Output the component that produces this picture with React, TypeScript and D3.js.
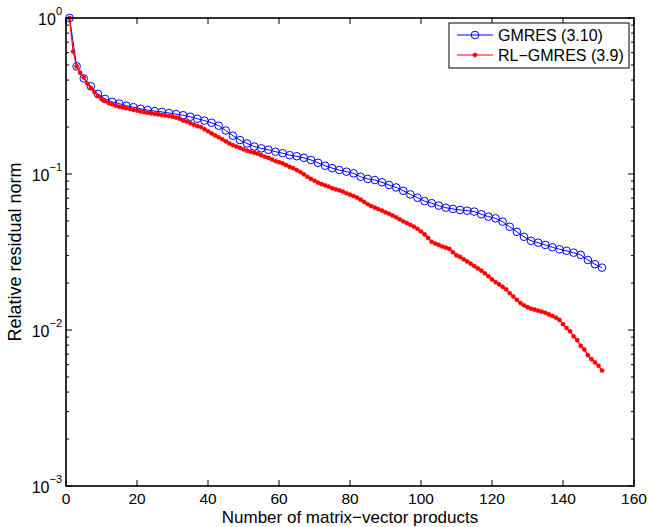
import React from "react";
import * as d3 from "d3";

// GMRES (3.10): residual at every 2nd matrix-vector product (1,3,...,151)
const gmresIter = d3.range(1, 152, 2);
const gmresRes = [
  1.0, 0.49, 0.41, 0.365, 0.326, 0.303, 0.29, 0.283, 0.274, 0.268,
  0.262, 0.257, 0.253, 0.25, 0.246, 0.242, 0.238, 0.233, 0.226, 0.22,
  0.213, 0.204, 0.19, 0.176, 0.165, 0.157, 0.15, 0.146, 0.143, 0.139,
  0.136, 0.132, 0.13, 0.127, 0.123, 0.118, 0.113, 0.109, 0.106, 0.1035,
  0.101, 0.096, 0.093, 0.0915, 0.0885, 0.085, 0.082, 0.078, 0.074, 0.0705,
  0.067, 0.065, 0.0627, 0.0608, 0.0597, 0.0588, 0.0582, 0.0574, 0.0552, 0.0533,
  0.052, 0.0495, 0.0459, 0.0426, 0.0396, 0.0373, 0.0363, 0.0351, 0.0339, 0.0329,
  0.0322, 0.0313, 0.0303, 0.0281, 0.0264, 0.0251,
];

// RL-GMRES (3.9): residual at every matrix-vector product (1..151)
const rlIter = d3.range(1, 152, 1);
const rlRes = [
  1.0, 0.61, 0.49, 0.445, 0.415, 0.38, 0.356, 0.335, 0.315, 0.302,
  0.293, 0.285, 0.28, 0.274, 0.27, 0.267, 0.264, 0.261, 0.258, 0.255,
  0.252, 0.249, 0.247, 0.245, 0.243, 0.241, 0.239, 0.237, 0.235, 0.233,
  0.23, 0.226, 0.22, 0.217, 0.212, 0.207, 0.203, 0.2, 0.194, 0.188,
  0.182, 0.177, 0.172, 0.167, 0.162, 0.157, 0.153, 0.15, 0.147, 0.144,
  0.141, 0.139, 0.137, 0.135, 0.132, 0.129, 0.127, 0.124, 0.121, 0.119,
  0.117, 0.114, 0.111, 0.109, 0.106, 0.103, 0.0995, 0.096, 0.093, 0.0905,
  0.088, 0.086, 0.0845, 0.083, 0.081, 0.0798, 0.0785, 0.077, 0.0752, 0.0737,
  0.0722, 0.0705, 0.0685, 0.0662, 0.064, 0.0622, 0.0608, 0.0595, 0.0583, 0.0568,
  0.0556, 0.0542, 0.0528, 0.0512, 0.0497, 0.0485, 0.0472, 0.046, 0.0445, 0.0428,
  0.041, 0.0389, 0.0368, 0.0358, 0.0351, 0.0343, 0.0337, 0.0331, 0.0315, 0.0301,
  0.0294, 0.0284, 0.0275, 0.0266, 0.0257, 0.0248, 0.024, 0.0231, 0.0221, 0.0211,
  0.0203, 0.0196, 0.0189, 0.0182, 0.0172, 0.0164, 0.0156, 0.0149, 0.0144, 0.014,
  0.0137, 0.0135, 0.0133, 0.0131, 0.0129, 0.0126, 0.0123, 0.012, 0.0116, 0.0109,
  0.0103, 0.0098, 0.0091, 0.0086, 0.0079, 0.0075, 0.0069, 0.0065, 0.0062, 0.0059,
  0.0055,
];

const xTicks = [0, 20, 40, 60, 80, 100, 120, 140, 160];
const yDecades = [-3, -2, -1, 0];
const seriesNames = ["GMRES (3.10)", "RL\u2212GMRES (3.9)"];
const xLabel = "Number of matrix\u2212vector products";
const yLabel = "Relative residual norm";

const W = 648;
const H = 527;
const L = 66, R = 634, T = 18, B = 486;
const FONT = "'Liberation Sans', Arial, Helvetica, sans-serif";

export default function App() {
  const x = d3.scaleLinear().domain([0, 160]).range([L, R]);
  const y = d3.scaleLog().domain([1e-3, 1]).range([B, T]);

  const gmresPts = gmresIter.map((it, i) => [it, gmresRes[i]] as [number, number]);
  const rlPts = rlIter.map((it, i) => [it, rlRes[i]] as [number, number]);
  const line = d3
    .line<[number, number]>()
    .x((d) => x(d[0]))
    .y((d) => y(d[1]));

  const minor: number[] = [];
  for (const e of [-3, -2, -1]) {
    for (let k = 2; k <= 9; k++) minor.push(k * Math.pow(10, e));
  }

  const blue = "#0000ff";
  const red = "#ff0000";

  return (
    <svg
      width={W}
      height={H}
      style={{ position: "absolute", left: 0, top: 0, background: "#fff" }}
      fontFamily={FONT}
    >
      <rect x={0} y={0} width={W} height={H} fill="#fff" />
      {/* data */}
      <path d={line(gmresPts) || ""} fill="none" stroke={blue} strokeWidth={1} />
      {gmresPts.map((d, i) => (
        <circle key={"g" + i} cx={x(d[0])} cy={y(d[1])} r={3.8} fill="none" stroke={blue} strokeWidth={1} />
      ))}
      <path d={line(rlPts) || ""} fill="none" stroke={red} strokeWidth={1.2} />
      {rlPts.map((d, i) => (
        <circle key={"r" + i} cx={x(d[0])} cy={y(d[1])} r={2.1} fill={red} stroke={red} strokeWidth={0.5} />
      ))}

      {/* axes box */}
      <rect x={L} y={T} width={R - L} height={B - T} fill="none" stroke="#000" strokeWidth={1.6} />
      {/* x ticks */}
      {xTicks.map((t) => (
        <g key={"xt" + t}>
          <line x1={x(t)} x2={x(t)} y1={B} y2={B - 6} stroke="#000" strokeWidth={1} />
          <line x1={x(t)} x2={x(t)} y1={T} y2={T + 6} stroke="#000" strokeWidth={1} />
          <text x={x(t)} y={504} fontSize={15.5} textAnchor="middle" fill="#000">
            {t}
          </text>
        </g>
      ))}
      {/* y ticks */}
      {yDecades.map((e) => {
        const v = Math.pow(10, e);
        return (
          <g key={"yt" + e}>
            <line x1={L} x2={L + 6} y1={y(v)} y2={y(v)} stroke="#000" strokeWidth={1} />
            <line x1={R} x2={R - 6} y1={y(v)} y2={y(v)} stroke="#000" strokeWidth={1} />
            <text x={L - 4} y={y(v) + 7} fontSize={16} textAnchor="end" fill="#000">
              <tspan>10</tspan>
              <tspan dy={-10} fontSize={11}>
                {e < 0 ? "\u2212" + Math.abs(e) : String(e)}
              </tspan>
            </text>
          </g>
        );
      })}
      {minor.map((v, i) => (
        <g key={"ym" + i}>
          <line x1={L} x2={L + 3} y1={y(v)} y2={y(v)} stroke="#000" strokeWidth={1} />
          <line x1={R} x2={R - 3} y1={y(v)} y2={y(v)} stroke="#000" strokeWidth={1} />
        </g>
      ))}

      {/* axis labels */}
      <text x={(L + R) / 2} y={523} fontSize={17} textAnchor="middle" fill="#000">
        {xLabel}
      </text>
      <text
        transform={`translate(21,${(T + B) / 2}) rotate(-90)`}
        fontSize={18}
        textAnchor="middle"
        fill="#000"
      >
        {yLabel}
      </text>

      {/* legend */}
      <rect x={449} y={23} width={180} height={45} fill="#fff" stroke="#000" strokeWidth={1} />
      <line x1={457} x2={493} y1={35} y2={35} stroke={blue} strokeWidth={1} />
      <circle cx={475} cy={35} r={3.8} fill="none" stroke={blue} strokeWidth={1} />
      <text x={498} y={41} fontSize={16} fill="#000">
        {seriesNames[0]}
      </text>
      <line x1={457} x2={493} y1={55} y2={55} stroke={red} strokeWidth={1} />
      <circle cx={475} cy={55} r={2.1} fill={red} stroke={red} strokeWidth={0.5} />
      <text x={498} y={61} fontSize={16} fill="#000">
        {seriesNames[1]}
      </text>
    </svg>
  );
}
